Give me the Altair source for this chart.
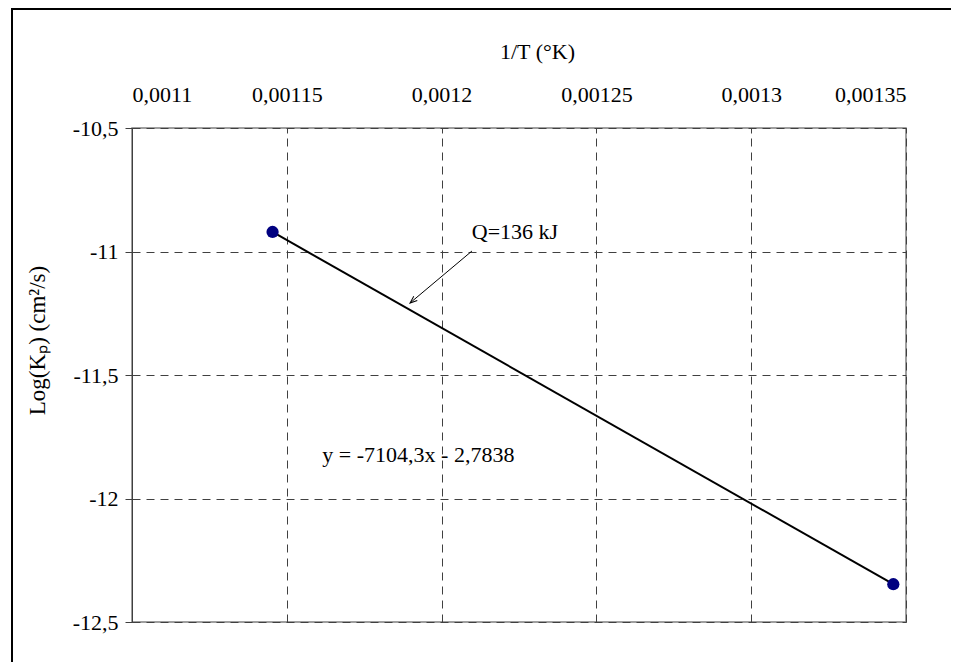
import altair as alt
import pandas as pd

# Data points (1/T, log Kp)
x_vals = [0.0011454, 0.0013459]
y_vals = [-10.921, -12.347]

x_ticks = [0.0011, 0.00115, 0.0012, 0.00125, 0.0013, 0.00135]
y_ticks = [-10.5, -11.0, -11.5, -12.0, -12.5]

# Annotations (data coordinates)
q_text = ["Q=136 kJ"]
q_x = [0.0012237]
q_y = [-10.921]
arrow_x = [0.0012098]
arrow_y = [-10.998]
arrow_x2 = [0.0011898]
arrow_y2 = [-11.2085]
eq_text = ["y = -7104,3x - 2,7838"]
eq_x = [0.0011925]
eq_y = [-11.824]

FONT = "'Liberation Serif', 'Times New Roman', Times, serif"
FS = 22

pts = pd.DataFrame({"x": x_vals, "y": y_vals})
arrow = pd.DataFrame({"x": arrow_x, "y": arrow_y, "x2": arrow_x2, "y2": arrow_y2})
qdf = pd.DataFrame({"x": q_x, "y": q_y, "t": q_text})
eqdf = pd.DataFrame({"x": eq_x, "y": eq_y, "t": eq_text})
one = pd.DataFrame({"d": [0]})

label_expr = "replace(toString(datum.value), '.', ',')"

xenc = alt.X(
    "x:Q",
    scale=alt.Scale(domain=[0.0011, 0.00135], nice=False, zero=False),
    axis=alt.Axis(
        orient="top", values=x_ticks, labelExpr=label_expr, title="1/T (°K)",
        domain=False, offset=-5, tickSize=5, tickColor="#404040",
        labelPadding=27, labelBaseline="alphabetic",
        titleX=405, titleY=-75, titleBaseline="alphabetic", titleAnchor="start", titleAlign="center",
        grid=True, gridDash=[8, 6], gridColor="#404040", gridWidth=1,
        labelFont=FONT, labelFontSize=FS, titleFont=FONT, titleFontSize=FS,
        titleFontWeight="normal", labelColor="black", titleColor="black",
    ),
)
yenc = alt.Y(
    "y:Q",
    scale=alt.Scale(domain=[-12.5, -10.5], nice=False, zero=False),
    axis=alt.Axis(
        values=y_ticks, labelExpr=label_expr, title="Log(Kₚ) (cm²/s)",
        domain=True, domainColor="#404040", domainWidth=1,
        tickSize=7, tickColor="#404040", labelPadding=7,
        titleX=-95, titleY=212, titleAngle=270, titleAlign="center", titleBaseline="middle",
        titleAnchor="start",
        grid=True, gridDash=[8, 6], gridColor="#404040", gridWidth=1,
        labelFont=FONT, labelFontSize=FS, titleFont=FONT, titleFontSize=23,
        titleFontWeight="normal", labelColor="black", titleColor="black",
    ),
)

line = alt.Chart(pts).mark_line(color="black", strokeWidth=2).encode(x=xenc, y=yenc)
points = alt.Chart(pts).mark_circle(color="#000080", size=150, opacity=1).encode(x=xenc, y=yenc)
arrow_line = alt.Chart(arrow).mark_rule(color="black", strokeWidth=1).encode(
    x=xenc, y=yenc, x2="x2:Q", y2="y2:Q"
)
arrow_head = alt.Chart(arrow).mark_point(
    shape="M -0.6 1.6 L 0 0 L 0.6 1.6", filled=False, color="black",
    strokeWidth=1, size=81, angle=230, opacity=1
).encode(x=alt.X("x2:Q"), y=alt.Y("y2:Q"))
qt = alt.Chart(qdf).mark_text(font=FONT, fontSize=FS, color="black", align="center", baseline="middle").encode(
    x=xenc, y=yenc, text="t:N"
)
eqt = alt.Chart(eqdf).mark_text(font=FONT, fontSize=FS, color="black", align="center", baseline="middle").encode(
    x=xenc, y=yenc, text="t:N"
)
border_top = alt.Chart(one).mark_rule(color="black", strokeWidth=2).encode(
    x=alt.value(-121), x2=alt.value(900), y=alt.value(-119)
)
border_left = alt.Chart(one).mark_rule(color="black", strokeWidth=2).encode(
    x=alt.value(-120), y=alt.value(-120), y2=alt.value(560)
)

chart = alt.layer(
    line, arrow_line, arrow_head, points, qt, eqt, border_top, border_left
).properties(
    width=774, height=494,
    autosize=alt.AutoSizeParams(type="none"),
    padding={"left": 124, "top": 120, "right": 45, "bottom": 40},
).configure(
    background="white", font=FONT
).configure_axis(
    labelFont=FONT, titleFont=FONT
).configure_text(
    font=FONT
).configure_view(
    stroke="#808080", strokeWidth=1.5
)

chart.save("out.html", embed_options={"renderer": "svg", "actions": False})
